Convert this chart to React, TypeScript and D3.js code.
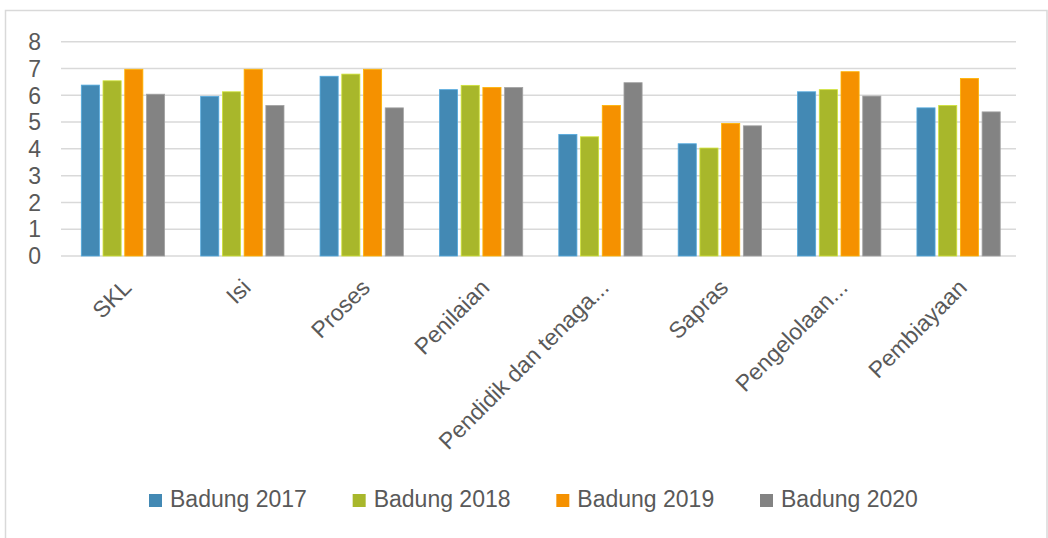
import React, { useEffect, useRef } from "react";
import * as d3 from "d3";

const categories = ["SKL", "Isi", "Proses", "Penilaian", "Pendidik dan tenaga...", "Sapras", "Pengelolaan...", "Pembiayaan"];
const seriesNames = ["Badung 2017", "Badung 2018", "Badung 2019", "Badung 2020"];
const badung2017 = [6.38, 5.96, 6.71, 6.21, 4.54, 4.19, 6.13, 5.53];
const badung2018 = [6.54, 6.13, 6.79, 6.37, 4.45, 4.03, 6.21, 5.62];
const badung2019 = [6.97, 6.97, 6.97, 6.29, 5.62, 4.95, 6.88, 6.63];
const badung2020 = [6.04, 5.62, 5.53, 6.29, 6.47, 4.86, 5.97, 5.38];
const yTicks = [0, 1, 2, 3, 4, 5, 6, 7, 8];
const colors = ["#4389b4", "#a8b72b", "#f59100", "#838383"];

const W = 1048;
const H = 538;
const FONT = "'Liberation Sans', Arial, sans-serif";
const TEXT = "#595959";

export default function App() {
  const ref = useRef<SVGSVGElement | null>(null);

  useEffect(() => {
    const svg = d3.select(ref.current);
    svg.selectAll("*").remove();
    const series = [badung2017, badung2018, badung2019, badung2020];

    svg.append("rect").attr("x", 5.5).attr("y", 10.5).attr("width", 1041.5).attr("height", 540)
      .attr("fill", "#fff").attr("stroke", "#d9d9d9").attr("stroke-width", 1.5);

    const x0 = d3.scaleBand<string>().domain(categories).range([61, 1016]).paddingInner(0).paddingOuter(0);
    const bw = x0.bandwidth();
    const x1 = d3.scaleBand<string>().domain(seriesNames).range([bw * 0.155, bw * 0.883]);
    const y = d3.scaleLinear().domain([0, 8]).range([256, 41.7]);

    const g = svg.append("g");
    g.selectAll("line.grid").data(yTicks).join("line")
      .attr("x1", 61).attr("x2", 1016)
      .attr("y1", (d) => y(d)).attr("y2", (d) => y(d))
      .attr("stroke", "#d9d9d9").attr("stroke-width", 1.5);

    g.selectAll("text.ytick").data(yTicks).join("text")
      .attr("x", 41).attr("y", (d) => y(d)).attr("dy", "0.36em")
      .attr("text-anchor", "end").attr("font-family", FONT).attr("font-size", 23).attr("fill", TEXT)
      .text((d) => String(d));

    series.forEach((vals, si) => {
      g.append("g").selectAll("rect").data(vals).join("rect")
        .attr("x", (_d, i) => (x0(categories[i]) as number) + (x1(seriesNames[si]) as number) + 1.8)
        .attr("width", x1.bandwidth() - 3.6)
        .attr("y", (d) => y(d))
        .attr("height", (d) => y(0) - y(d))
        .attr("fill", colors[si])
        .attr("stroke", d3.color(colors[si])!.brighter(0.6).formatHex())
        .attr("stroke-width", 0.8);
    });

    g.selectAll("text.cat").data(categories).join("text")
      .attr("transform", (d) => `translate(${(x0(d) as number) + bw / 2 + 12},${289}) rotate(-45)`)
      .attr("text-anchor", "end").attr("font-family", FONT).attr("font-size", 23).attr("fill", TEXT)
      .text((d) => d);

    const legendX = d3.scaleLinear().domain([0, 3]).range([149, 760]);
    const lg = svg.append("g").selectAll("g").data(seriesNames).join("g")
      .attr("transform", (_d, i) => `translate(${legendX(i)},494)`);
    lg.append("rect").attr("width", 13).attr("height", 13).attr("fill", (_d, i) => colors[i]);
    lg.append("text").attr("x", 21).attr("y", 12.7)
      .attr("font-family", FONT).attr("font-size", 23).attr("fill", TEXT)
      .text((d) => d);
  }, []);

  return (
    <svg ref={ref} width={W} height={H} style={{ position: "absolute", left: 0, top: 0, background: "#fff" }} />
  );
}
